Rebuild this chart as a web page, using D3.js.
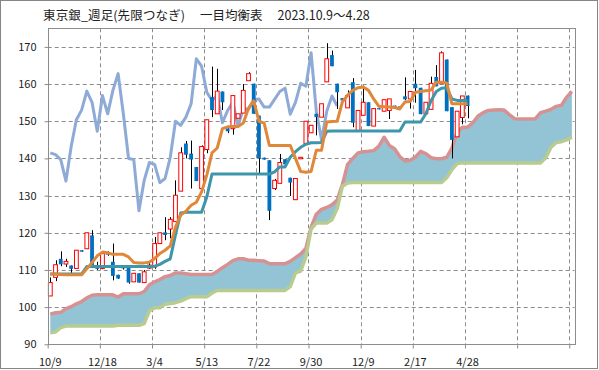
<!DOCTYPE html>
<html>
<head>
<meta charset="utf-8">
<script src="https://cdn.jsdelivr.net/npm/d3@7"></script>
<style>
body { margin: 0; background: #fff; }
text { font-family: "Noto Sans CJK JP", "Noto Sans", sans-serif; fill: #222; }
</style>
</head>
<body>
<div id="container"></div>
<script>
//Tick labels of the category axis (every 10 weeks)
var tickLabels = ["10/9", "12/18", "3/4", "5/13", "7/22", "9/30", "12/9", "2/17", "4/28"];

//Weekly candles, 2023.10.9 - 2025.4.28
var opens = [103.0, 108.0, 113.0, 111.6, 111.2, 110.4, 115.3, 115.7, 119.3, 111.0,
    110.4, 114.5, 112.2, 108.7, 110.7, 110.8, 106.8, 109.1, 106.6, 110.5,
    110.8, 117.1, 120.1, 121.0, 123.0, 131.2, 144.0, 141.3, 137.7, 131.9,
    142.4, 156.5, 152.0, 158.0, 148.1, 148.0, 150.8, 152.2, 160.9, 160.1,
    151.5, 140.2, 139.5, 131.9, 133.3, 139.8, 134.8, 128.9, 139.9, 144.0,
    146.9, 152.0, 151.1, 160.6, 167.8, 160.1, 156.2, 153.6, 160.5, 147.5,
    151.6, 155.1, 148.7, 153.5, 152.7, 152.9, 154.2, 154.0, 156.7, 156.0,
    160.1, 159.0, 152.0, 153.2, 161.9, 160.1, 166.6, 153.8, 145.8, 151.0,
    156.9];
var highs = [108.0, 112.6, 115.0, 113.0, 111.2, 115.3, 115.3, 120.0, 120.7, 112.2,
    114.4, 115.0, 117.1, 108.7, 111.2, 110.8, 109.1, 109.1, 110.0, 112.0,
    118.9, 120.0, 124.2, 124.2, 134.1, 143.0, 144.7, 144.8, 137.7, 143.5,
    150.4, 164.7, 164.1, 158.0, 148.1, 156.9, 152.0, 160.0, 163.2, 160.1,
    151.5, 140.2, 139.5, 134.5, 141.2, 139.8, 134.8, 134.6, 140.3, 150.0,
    148.9, 152.0, 154.7, 171.0, 169.0, 160.1, 156.2, 158.3, 161.6, 152.9,
    159.6, 155.1, 153.4, 153.5, 155.8, 156.0, 154.2, 154.0, 161.8, 158.0,
    163.8, 159.0, 155.1, 162.0, 165.1, 168.8, 166.6, 153.8, 152.7, 156.8,
    156.9];
var lows = [103.0, 107.0, 111.0, 110.8, 109.2, 110.4, 114.9, 115.7, 110.5, 110.0,
    110.2, 113.8, 107.2, 107.6, 110.1, 106.3, 106.8, 106.6, 106.6, 110.3,
    110.3, 117.1, 118.0, 118.5, 123.0, 131.2, 140.0, 131.9, 133.9, 131.4,
    141.4, 151.1, 152.0, 153.0, 146.8, 146.4, 150.8, 152.2, 160.9, 152.0,
    136.0, 139.7, 123.4, 131.5, 133.3, 138.4, 129.9, 128.9, 139.9, 144.0,
    146.9, 146.2, 151.1, 160.6, 164.8, 153.3, 155.6, 153.6, 148.4, 147.5,
    151.6, 148.7, 148.7, 153.2, 152.7, 150.6, 153.8, 153.6, 155.6, 153.4,
    155.0, 151.9, 152.0, 153.2, 159.4, 160.1, 152.7, 140.0, 145.8, 149.2,
    150.8];
var closes = [106.6, 111.4, 111.5, 112.3, 110.3, 115.3, 114.9, 120.0, 111.1, 110.3,
    114.4, 114.1, 108.4, 107.7, 110.4, 106.6, 109.1, 106.6, 109.5, 111.3,
    117.1, 120.0, 119.4, 123.6, 130.1, 141.5, 141.0, 139.7, 133.9, 143.2,
    150.4, 153.0, 158.1, 155.1, 147.3, 156.9, 152.0, 158.3, 162.8, 152.0,
    140.0, 139.7, 125.9, 134.1, 138.9, 138.4, 133.5, 134.6, 140.3, 150.0,
    148.9, 151.1, 154.7, 166.8, 164.8, 157.8, 155.6, 156.9, 149.6, 152.9,
    155.1, 148.7, 153.4, 153.2, 155.8, 156.0, 153.8, 153.8, 155.9, 158.0,
    158.9, 151.9, 155.1, 160.2, 159.4, 168.4, 152.7, 145.0, 152.7, 156.8,
    154.1];

//Conversion line (orange) and base line (teal)
var tenkan = [108.9, 108.9, 108.8, 108.7, 108.7, 108.7, 108.7, 110.3, 112.0, 113.8,
    114.8, 114.6, 114.2, 114.2, 114.2, 113.5, 112.0, 111.9, 111.9, 112.1,
    113.1, 114.4, 115.3, 116.5, 121.5, 124.8, 125.8, 127.4, 128.2, 131.0,
    135.5, 141.5, 142.8, 148.0, 148.5, 148.6, 148.6, 149.5, 153.5, 155.5,
    150.0, 149.5, 143.5, 143.5, 143.5, 143.5, 143.5, 140.0, 136.5, 136.3,
    136.5, 142.2, 142.2, 149.8, 149.9, 150.0, 155.2, 157.0, 158.3, 159.0,
    159.2, 158.3, 156.0, 154.0, 153.9, 153.8, 153.7, 153.3, 155.2, 155.3,
    157.8, 158.0, 158.2, 158.4, 160.5, 160.5, 160.3, 154.7, 154.7, 154.7,
    154.7];
var kijun = [108.9, 108.9, 108.9, 108.9, 108.9, 108.9, 108.9, 110.9, 110.9, 110.9,
    110.9, 110.9, 110.9, 110.9, 110.9, 110.9, 110.9, 110.9, 110.9, 110.9,
    111.0, 111.5, 112.3, 113.0, 119.5, 125.3, 125.5, 125.5, 125.5, 125.5,
    129.6, 135.8, 135.8, 135.8, 135.8, 135.8, 135.8, 135.8, 135.8, 135.8,
    135.8, 135.8, 135.8, 136.4, 137.7, 137.7, 140.3, 141.8, 143.0, 143.8,
    144.2, 144.2, 144.3, 147.3, 147.4, 147.4, 147.4, 147.4, 147.4, 147.4,
    147.4, 147.4, 147.4, 147.4, 147.4, 147.4, 147.4, 147.4, 149.8, 149.8,
    149.8, 149.8, 152.0, 155.5, 158.0, 158.9, 159.0, 156.0, 155.6, 155.6,
    155.6];

//Lagging span (drawn 25 weeks back)
var chikou = [141.5, 141.0, 139.7, 133.9, 143.2, 150.4, 153.0, 158.1, 155.1, 147.3,
    156.9, 152.0, 158.3, 162.8, 152.0, 140.0, 139.7, 125.9, 134.1, 138.9,
    138.4, 133.5, 134.6, 140.3, 150.0, 148.9, 151.1, 154.7, 166.8, 164.8,
    157.8, 155.6, 156.9, 149.6, 152.9, 155.1, 148.7, 153.4, 153.2, 155.8,
    156.0, 153.8, 153.8, 155.9, 158.0, 158.9, 151.9, 155.1, 160.2, 159.4,
    168.4, 152.7, 145.0, 152.7, 156.8, 154.1];

//Leading spans A (pink) and B (green), drawn ahead into the future
var senkouA = [98.1, 98.5, 98.6, 99.6, 100.1, 100.9, 101.5, 102.5, 103.2, 103.3,
    103.3, 103.3, 103.3, 102.7, 103.6, 103.6, 103.6, 103.6, 104.2, 106.0,
    106.8, 107.4, 108.2, 108.5, 109.2, 109.2, 109.0, 108.8, 108.8, 108.8,
    108.8, 108.8, 109.6, 110.6, 111.5, 112.5, 113.0, 113.0, 112.6, 112.6,
    112.5, 112.4, 111.7, 111.7, 111.7, 111.7, 112.3, 113.3, 114.3, 115.8,
    121.5, 125.0, 126.3, 126.8, 127.5, 128.8, 133.0, 138.4, 140.0, 141.5,
    141.8, 141.9, 142.1, 143.3, 145.7, 143.5, 142.6, 140.5, 139.3, 139.5,
    140.4, 141.9, 141.3, 140.2, 139.9, 139.9, 140.3, 142.8, 147.0, 148.4,
    148.4, 149.6, 151.4, 152.3, 152.9, 153.0, 153.1, 153.0, 151.8, 150.7,
    150.6, 150.6, 150.6, 150.7, 152.3, 152.7, 153.2, 154.0, 154.3, 156.5,
    158.0];
var senkouB = [93.1, 93.3, 94.5, 94.9, 94.9, 94.9, 94.9, 94.9, 94.9, 94.9,
    94.9, 94.9, 94.9, 95.1, 95.1, 95.1, 95.1, 95.1, 95.6, 99.0,
    99.8, 99.8, 100.8, 101.0, 101.2, 101.6, 102.3, 102.8, 102.8, 102.8,
    102.8, 103.8, 104.5, 104.5, 104.5, 104.5, 104.5, 104.5, 104.5, 104.5,
    104.5, 104.5, 104.5, 104.5, 104.5, 104.5, 105.5, 109.2, 109.7, 113.5,
    121.0, 122.6, 122.6, 122.6, 123.5, 126.5, 132.5, 133.4, 133.5, 133.5,
    133.5, 133.5, 133.5, 133.5, 133.5, 133.5, 133.5, 133.5, 133.5, 133.5,
    133.5, 133.5, 133.5, 133.5, 133.5, 133.5, 134.8, 137.0, 138.6, 138.8,
    138.8, 138.8, 138.8, 138.8, 138.8, 138.8, 138.8, 138.8, 138.8, 138.8,
    138.8, 138.8, 138.8, 138.8, 138.8, 140.2, 143.0, 144.3, 144.5, 145.0,
    145.7];

var yTicks = [90, 100, 110, 120, 130, 140, 150, 160, 170];

//SVG sizes and plot area
var width = 599,
    height = 370;
var plot = { left: 47.7, right: 574.5, top: 28.3, bottom: 344.3 };
var numSlots = 101; //categories shown on the axis

var x = d3.scaleLinear().domain([0, numSlots]).range([plot.left, plot.right]);
var y = d3.scaleLinear().domain([90, 175]).range([plot.bottom, plot.top]);
function cx(i) { return x(i + 0.5); }

var svg = d3.select("#container").append("svg")
    .attr("width", width)
    .attr("height", height);

//Chart border
svg.append("rect")
    .attr("x", 0.5).attr("y", 0.5)
    .attr("width", 597).attr("height", 368)
    .attr("fill", "#fff")
    .attr("stroke", "#868686");

//Title
var title = svg.append("g").style("font-size", "12.5px");
title.append("text").attr("x", 43).attr("y", 19.5)
    .attr("textLength", 142).attr("lengthAdjust", "spacing")
    .text("東京銀_週足(先限つなぎ)");
title.append("text").attr("x", 200).attr("y", 19.5).text("一目均衡表");
title.append("text").attr("x", 277.5).attr("y", 19.5).text("2023.10.9〜4.28");

//Gridlines
var grid = svg.append("g")
    .attr("stroke", "#8c8c8c")
    .attr("stroke-width", 1)
    .attr("stroke-dasharray", "4,3");
grid.selectAll(".hgrid")
    .data(yTicks.filter(function (d) { return d > 90; }))
    .enter().append("line")
    .attr("x1", plot.left).attr("x2", plot.right)
    .attr("y1", function (d) { return Math.round(y(d)) + 0.5; })
    .attr("y2", function (d) { return Math.round(y(d)) + 0.5; });
grid.selectAll(".vgrid")
    .data(d3.range(10, numSlots, 10))
    .enter().append("line")
    .attr("y1", plot.top).attr("y2", plot.bottom)
    .attr("x1", function (d) { return Math.round(x(d)) + 0.5; })
    .attr("x2", function (d) { return Math.round(x(d)) + 0.5; });

//Cloud between the leading spans
svg.append("path")
    .datum(senkouA)
    .attr("fill", "#93c4d6")
    .attr("d", d3.area()
        .x(function (d, i) { return cx(i); })
        .y0(function (d, i) { return y(senkouB[i]); })
        .y1(function (d) { return y(d); }));

function drawLine(values, color, widthPx) {
    svg.append("path")
        .datum(values)
        .attr("fill", "none")
        .attr("stroke", color)
        .attr("stroke-width", widthPx)
        .attr("stroke-linejoin", "round")
        .attr("d", d3.line()
            .x(function (d, i) { return cx(i); })
            .y(function (d) { return y(d); }));
}

drawLine(senkouA, "#d69292", 3.5);
drawLine(senkouB, "#b8cc8f", 3.5);
drawLine(chikou, "#8eaad6", 3);

//Candles
var candles = svg.append("g");
var bodyW = 3.8;
candles.selectAll(".wick")
    .data(closes)
    .enter().append("line")
    .attr("x1", function (d, i) { return Math.round(cx(i)) + 0.5; })
    .attr("x2", function (d, i) { return Math.round(cx(i)) + 0.5; })
    .attr("y1", function (d, i) { return y(highs[i]); })
    .attr("y2", function (d, i) { return y(lows[i]); })
    .attr("stroke", "#000")
    .attr("stroke-width", 1);
candles.selectAll(".body")
    .data(closes)
    .enter().append("rect")
    .attr("x", function (d, i) { return cx(i) - bodyW / 2; })
    .attr("width", bodyW)
    .attr("y", function (d, i) { return y(Math.max(d, opens[i])); })
    .attr("height", function (d, i) { return Math.max(1, Math.abs(y(d) - y(opens[i]))); })
    .attr("fill", function (d, i) { return d >= opens[i] ? "#fff" : "#0070c0"; })
    .attr("stroke", function (d, i) { return d >= opens[i] ? "#ff0000" : "none"; })
    .attr("stroke-width", 1);

drawLine(kijun, "#3d96aa", 3);
drawLine(tenkan, "#e0883a", 3);

//Plot area border
svg.append("rect")
    .attr("x", Math.round(plot.left) + 0.5)
    .attr("y", Math.round(plot.top) + 0.5)
    .attr("width", Math.round(plot.right) - Math.round(plot.left))
    .attr("height", Math.round(plot.bottom) - Math.round(plot.top))
    .attr("fill", "none")
    .attr("stroke", "#8c8c8c");

//Y axis
var yAxis = svg.append("g")
    .attr("transform", "translate(" + (Math.round(plot.left) + 0.5) + ",0)")
    .call(d3.axisLeft(y).tickValues(yTicks).tickSize(4).tickPadding(8));
yAxis.select(".domain").remove();
yAxis.selectAll("line").attr("stroke", "#8c8c8c");
yAxis.selectAll("text").style("font-size", "11px").style("font-family", "'Noto Sans CJK JP', sans-serif").attr("fill", "#222");

//X axis: ticks at category boundaries, labels centred on categories
var xAxis = svg.append("g")
    .attr("transform", "translate(0," + (Math.round(plot.bottom) + 0.5) + ")")
    .call(d3.axisBottom(x).tickValues(d3.range(0, numSlots, 10)).tickSize(4).tickFormat(""));
xAxis.select(".domain").remove();
xAxis.selectAll("line").attr("stroke", "#8c8c8c");

svg.append("g").selectAll(".xlabel")
    .data(tickLabels)
    .enter().append("text")
    .attr("x", function (d, i) { return cx(i * 10); })
    .attr("y", 366)
    .attr("text-anchor", "middle")
    .style("font-size", "11px")
    .text(function (d) { return d; });
</script>
</body>
</html>
